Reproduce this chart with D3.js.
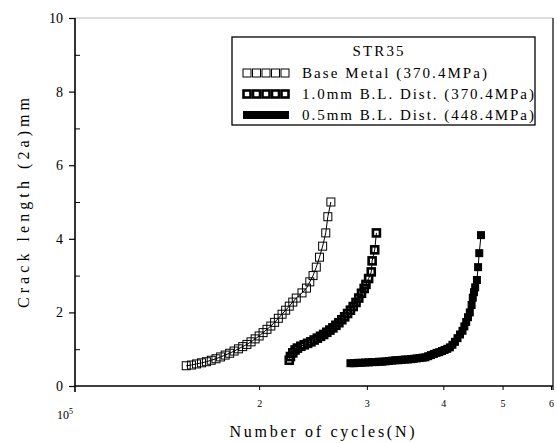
<!DOCTYPE html>
<html><head><meta charset="utf-8">
<script src="https://cdn.jsdelivr.net/npm/d3@7"></script>
<style>
body{margin:0;background:#fff;}
svg{display:block;}
text{font-family:"Liberation Serif","DejaVu Serif",serif;fill:#000;}
</style>
</head><body>
<svg id="c" width="557" height="443"></svg>
<script>
// ---- data ----
const baseN = [1.52,1.55,1.58,1.61,1.64,1.67,1.70,1.73,1.76,1.79,1.82,1.85,1.88,1.91,1.94,1.97,2.00,2.03,2.06,2.09,2.12,2.15,2.18,2.21,2.24,2.27,2.30,2.35,2.39,2.42,2.45,2.48,2.51,2.54,2.57,2.59,2.62];
const baseA = [0.55,0.57,0.60,0.63,0.66,0.70,0.74,0.79,0.84,0.89,0.95,1.01,1.07,1.13,1.20,1.28,1.36,1.45,1.54,1.63,1.73,1.84,1.95,2.06,2.17,2.28,2.39,2.53,2.66,2.83,3.00,3.23,3.50,3.80,4.16,4.60,5.00];
const bl10N = [2.24,2.25,2.27,2.29,2.31,2.34,2.37,2.40,2.43,2.46,2.49,2.52,2.55,2.58,2.61,2.64,2.67,2.70,2.73,2.76,2.79,2.82,2.85,2.88,2.91,2.94,2.97,2.99,3.02,3.05,3.06,3.09,3.11];
const bl10A = [0.70,0.80,0.90,0.98,1.03,1.08,1.12,1.16,1.20,1.25,1.30,1.35,1.40,1.46,1.52,1.58,1.65,1.72,1.80,1.88,1.97,2.06,2.16,2.27,2.39,2.52,2.65,2.76,2.92,3.10,3.40,3.70,4.16];
const bl05N = [2.82,2.86,2.90,2.94,2.98,3.02,3.06,3.10,3.14,3.18,3.22,3.26,3.30,3.34,3.38,3.42,3.46,3.50,3.54,3.58,3.62,3.66,3.70,3.74,3.78,3.82,3.86,3.90,3.94,3.98,4.02,4.06,4.10,4.14,4.18,4.22,4.26,4.30,4.33,4.36,4.39,4.42,4.45,4.47,4.49,4.51,4.54,4.56,4.58,4.61];
const bl05A = [0.62,0.62,0.63,0.63,0.64,0.64,0.65,0.65,0.66,0.66,0.67,0.68,0.69,0.70,0.70,0.71,0.72,0.72,0.73,0.74,0.75,0.76,0.77,0.78,0.81,0.84,0.87,0.90,0.92,0.95,0.98,1.01,1.05,1.12,1.20,1.30,1.40,1.50,1.62,1.74,1.87,2.00,2.20,2.40,2.55,2.68,2.88,3.23,3.61,4.10];
const seriesNames = ["Base Metal (370.4MPa)","1.0mm B.L. Dist. (370.4MPa)","0.5mm B.L. Dist. (448.4MPa)"];
const legendTitle = "STR35";
const xTickValues = [2e5,3e5,4e5,5e5,6e5];
const xTickLabels = ["2","3","4","5","6"];
const yTickValues = [0,2,4,6,8,10];
const yMinorTicks = [1,3,5,7,9];
const xTitle = "Number of cycles(N)";
const yTitle = "Crack length (2a)mm";

// ---- scales ----
const svg = d3.select("#c");
const x = d3.scaleLog().domain([1e5,6e5]).range([75,551]);
const y = d3.scaleLinear().domain([0,10]).range([386,18]);

// frame
svg.append("line").attr("x1",x(1e5)).attr("x2",553).attr("y1",y(10)).attr("y2",y(10)).attr("stroke","#aaa").attr("stroke-width",0.8);
svg.append("line").attr("x1",553).attr("x2",553).attr("y1",y(10)).attr("y2",390).attr("stroke","#000").attr("stroke-width",1.2);

// y axis
const gy = svg.append("g").attr("transform",`translate(${x(1e5)},0)`)
  .call(d3.axisLeft(y).tickValues(yTickValues).tickSize(6).tickPadding(6).tickFormat(d3.format("d")));
gy.select(".domain").remove();
gy.selectAll("text").attr("font-size",14).attr("font-family","Liberation Serif");
gy.selectAll("line").attr("stroke-width",1.2);
const gym = svg.append("g").attr("transform",`translate(${x(1e5)},0)`)
  .call(d3.axisRight(y).tickValues(yMinorTicks).tickSize(5).tickFormat(""));
gym.select(".domain").remove();
svg.append("line").attr("x1",x(1e5)).attr("x2",x(1e5)).attr("y1",y(10)).attr("y2",392).attr("stroke","#000").attr("stroke-width",1.6);

// x axis
const gx = svg.append("g").attr("transform",`translate(0,${y(0)})`)
  .call(d3.axisBottom(x).tickValues(xTickValues).tickSize(4).tickPadding(10).tickFormat((d,i)=>xTickLabels[i]));
gx.select(".domain").remove();
gx.selectAll("text").attr("font-size",10).attr("font-family","Liberation Serif");
svg.append("line").attr("x1",x(1e5)).attr("x2",553).attr("y1",y(0)).attr("y2",y(0)).attr("stroke","#000").attr("stroke-width",1.6);
const t105 = svg.append("text").attr("x",x(1e5)-18).attr("y",419).attr("font-size",12);
t105.append("tspan").text("10");
t105.append("tspan").attr("dy",-5).attr("font-size",8).text("5");

// titles
svg.append("text").attr("x",322).attr("y",437).attr("text-anchor","middle").attr("font-size",16)
  .attr("textLength",185).attr("lengthAdjust","spacing").text(xTitle);
svg.append("text").attr("transform",`translate(29,203) rotate(-90)`).attr("text-anchor","middle").attr("font-size",16)
  .attr("textLength",210).attr("lengthAdjust","spacing").text(yTitle);

// series
const series = [
  {N:baseN, A:baseA, kind:"open"},
  {N:bl10N, A:bl10A, kind:"half"},
  {N:bl05N, A:bl05A, kind:"solid"}
];
const line = d3.line().x(d=>x(d[0]*1e5)).y(d=>y(d[1]));
function marker(g, kind, cx, cy){
  if(kind==="open") g.append("rect").attr("x",cx-4).attr("y",cy-4).attr("width",8).attr("height",8).attr("fill","none").attr("stroke","#000").attr("stroke-width",1);
  else if(kind==="half") g.append("rect").attr("x",cx-3.5).attr("y",cy-3.5).attr("width",7).attr("height",7).attr("fill","none").attr("stroke","#000").attr("stroke-width",2.6);
  else g.append("rect").attr("x",cx-4).attr("y",cy-4).attr("width",8).attr("height",8).attr("fill","#000");
}
series.forEach(s=>{
  const pts = s.N.map((n,i)=>[n,s.A[i]]);
  svg.append("path").datum(pts).attr("d",line).attr("fill","none").attr("stroke","#000").attr("stroke-width",1);
  const g = svg.append("g");
  pts.forEach(p=>marker(g,s.kind,x(p[0]*1e5),y(p[1])));
});

// legend
const lg = svg.append("g");
lg.append("rect").attr("x",232).attr("y",37).attr("width",303).attr("height",88).attr("fill","#fff").attr("stroke","#000").attr("stroke-width",1.3);
lg.append("text").attr("x",378).attr("y",56).attr("text-anchor","middle").attr("font-size",15).attr("textLength",51).attr("lengthAdjust","spacing").text(legendTitle);
const rowY = [73,94,115];
const textEnds = [487,534,534];
const kinds = ["open","half","solid"];
rowY.forEach((ry,i)=>{
  if(kinds[i]==="solid"){
    lg.append("rect").attr("x",243).attr("y",ry-4).attr("width",46).attr("height",8).attr("fill","#000");
  } else {
    for(let k=0;k<5;k++) marker(lg,kinds[i],247+k*9.5,ry);
  }
  lg.append("text").attr("x",302).attr("y",ry+5).attr("font-size",15).attr("textLength",textEnds[i]-302).attr("lengthAdjust","spacing").text(seriesNames[i]);
});
</script>
</body></html>
